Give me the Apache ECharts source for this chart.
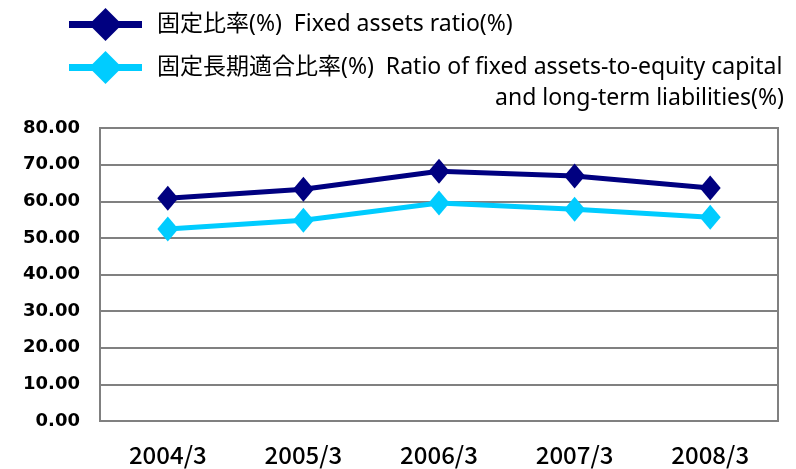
<!DOCTYPE html>
<html>
<head>
<meta charset="utf-8">
<script src="https://cdn.jsdelivr.net/npm/echarts@6/dist/echarts.min.js"></script>
<style>
  html, body { margin: 0; padding: 0; background: #fff; }
  #chart { width: 796px; height: 469px; }
</style>
</head>
<body>
<div id="chart"></div>
<script>
// 数据
const categories = ['2004/3', '2005/3', '2006/3', '2007/3', '2008/3'];
const fixedRatio = [60.8, 63.3, 68.2, 66.9, 63.6];
const longTermRatio = [52.4, 54.8, 59.5, 57.8, 55.6];
const seriesNames = ['固定比率(%)  Fixed assets ratio(%)', '固定長期適合比率(%)  Ratio of fixed assets-to-equity capital'];
const extraLegendLine = 'and long-term liabilities(%)';

const gray = '#808080';
const legendFont = '"Noto Sans", "Noto Sans CJK JP", sans-serif';
// 图例图标：横线 + 菱形
const legendIcon = 'path://M0,13L73,13L73,20L0,20Z M36.5,0L53,16.5L36.5,33L20,16.5Z';
const chart = echarts.init(document.getElementById('chart'));

const option = {
    animation: false,
    grid: {
        left: 100, right: 18, top: 128, bottom: 48,
        show: true,
        borderColor: gray,
        borderWidth: 2
    },
    legend: {
        orient: 'vertical',
        left: 64,
        top: 3,
        itemWidth: 73,
        itemHeight: 33,
        itemGap: 10,
        icon: legendIcon,
        textStyle: {
            fontFamily: legendFont,
            fontSize: 23,
            color: '#000',
            padding: [0, 0, 0, 10]
        },
        data: seriesNames
    },
    graphic: [{
        type: 'text',
        right: 12,
        top: 87,
        style: {
            text: extraLegendLine,
            fontFamily: legendFont,
            fontSize: 23,
            fill: '#000'
        }
    }],
    xAxis: {
        type: 'category',
        data: categories,
        boundaryGap: true,
        axisLine: { lineStyle: { color: gray, width: 2 } },
        axisTick: { inside: true, length: 8, lineStyle: { color: gray, width: 2 } },
        axisLabel: {
            margin: 22,
            fontFamily: 'Noto Sans CJK JP',
            fontWeight: 500,
            fontSize: 24,
            color: '#000'
        }
    },
    yAxis: {
        type: 'value',
        min: 0,
        max: 80,
        interval: 10,
        axisLine: { show: true, lineStyle: { color: gray, width: 2 } },
        axisTick: { show: false },
        splitLine: { lineStyle: { color: gray, width: 2 } },
        axisLabel: {
            margin: 20,
            fontFamily: '"DejaVu Sans", sans-serif',
            fontWeight: 'bold',
            fontSize: 18,
            color: '#000',
            formatter: v => v.toFixed(2)
        }
    },
    series: [
        {
            name: seriesNames[0],
            type: 'line',
            data: fixedRatio,
            symbol: 'diamond',
            symbolSize: [21, 25],
            lineStyle: { color: '#000080', width: 5 },
            itemStyle: { color: '#000080' }
        },
        {
            name: seriesNames[1],
            type: 'line',
            data: longTermRatio,
            symbol: 'diamond',
            symbolSize: [21, 25],
            lineStyle: { color: '#00CCFF', width: 5 },
            itemStyle: { color: '#00CCFF' }
        }
    ]
};

chart.setOption(option);
</script>
</body>
</html>
